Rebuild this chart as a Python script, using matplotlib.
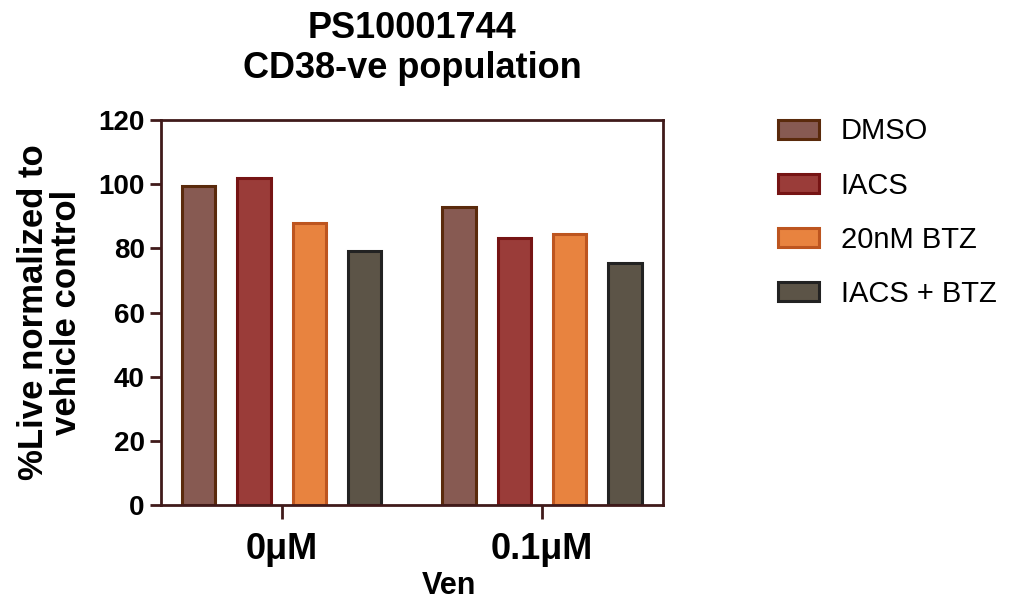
import numpy as np
import matplotlib
matplotlib.use('Agg')
import matplotlib.pyplot as plt

plt.rcParams['font.family'] = ['Liberation Sans', 'DejaVu Sans']

groups = ['0\u03bcM', '0.1\u03bcM']
treatments = ['DMSO', 'IACS', '20nM BTZ', 'IACS + BTZ']
dmso = [99.5, 92.8]
iacs = [101.8, 83.1]
btz = [87.8, 84.5]
iacs_btz = [79.3, 75.6]
yticks = [0, 20, 40, 60, 80, 100, 120]

fills = ['#875a52', '#9a3c39', '#e8833f', '#5c5447']
edges = ['#5a2a0c', '#761414', '#bd551f', '#222222']
axis_color = '#401a1a'

fig = plt.figure(figsize=(10.17, 6), dpi=100)
ax = fig.add_axes([0.158, 0.158, 0.494, 0.642])

x = np.arange(len(groups))
offsets = [-0.319, -0.106, 0.106, 0.319]
width = 0.128
for vals, off, fc, ec, lab in zip([dmso, iacs, btz, iacs_btz], offsets, fills, edges, treatments):
    ax.bar(x + off, vals, width, color=fc, edgecolor=ec, linewidth=2.2, label=lab)

ax.set_xlim(-0.465, 1.465)
ax.set_ylim(0, 120)
ax.set_yticks(yticks)
ax.set_xticks(x)
ax.set_xticklabels(groups, fontsize=26, fontweight='bold')
ax.tick_params(axis='y', labelsize=20, width=2, length=8, color=axis_color)
ax.tick_params(axis='x', width=2, length=10, color=axis_color, pad=9)
for lbl in ax.get_yticklabels():
    lbl.set_fontweight('bold')
for s in ax.spines.values():
    s.set_color(axis_color)
    s.set_linewidth(2)

ax.set_xlabel('Ven', fontsize=22, fontweight='bold')
ax.xaxis.set_label_coords(0.574, -0.17)
ax.set_ylabel('%Live normalized to\nvehicle control', fontsize=25, fontweight='bold',
              linespacing=1.0, labelpad=11)
ax.set_title('PS10001744\nCD38-ve population', fontsize=26, fontweight='bold',
             linespacing=1.2, pad=30)

fig.legend(loc='upper left', bbox_to_anchor=(0.739, 0.848), frameon=False,
           fontsize=21, handlelength=1.4, handleheight=0.62, labelspacing=0.9,
           handletextpad=0.75)

fig.savefig('out.png', dpi=100)
